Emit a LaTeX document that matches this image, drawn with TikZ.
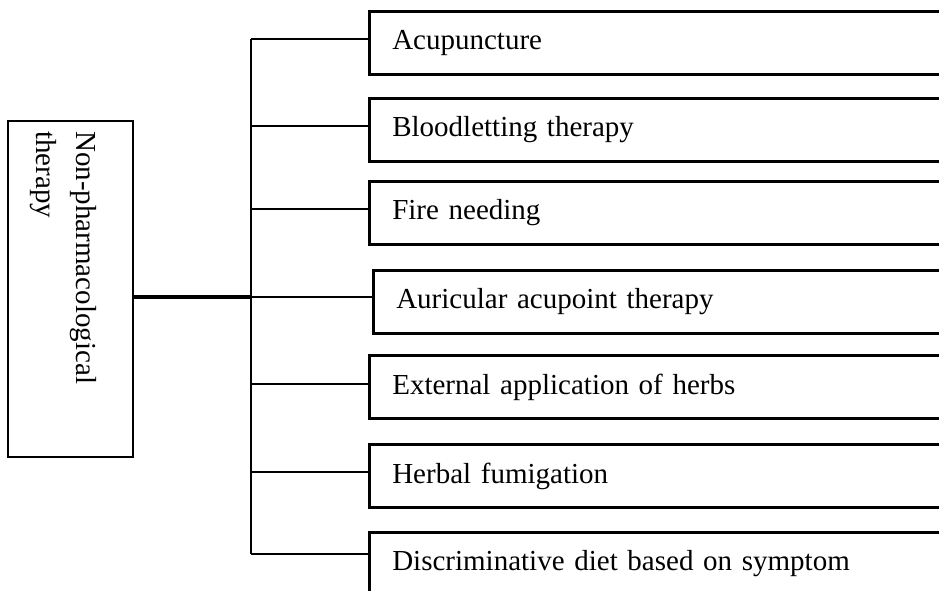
\documentclass[tikz,border=0pt]{standalone}
\usepackage{fontspec}
\setmainfont{Liberation Serif}
\begin{document}
\begin{tikzpicture}[x=1pt,y=-1pt,
  every node/.style={font=\fontsize{29}{40}\selectfont},
  box/.style={draw,line width=2.6pt,inner sep=0},
  item/.style={box,anchor=west,minimum height=63pt,text width=560pt,align=left,inner xsep=23pt},
  branch/.style={line width=2.6pt}]
\path[use as bounding box,clip] (0,0) rectangle (939,591);
\node[box,minimum width=125pt,minimum height=336pt] (root) at (70.5,289) {};
\node[rotate=-90,anchor=north west,align=left,inner sep=0] (rootlabel) at (97,131) {Non-pharmacological\\therapy};
\coordinate (hub) at (251,297);
\foreach \i/\x/\y/\d/\txt in {1/368/43/4/Acupuncture, 2/368/130/4/Bloodletting therapy,
  3/368/213/4/Fire needing, 4/372/302/5/Auricular acupoint therapy,
  5/368/387/3/External application of herbs, 6/368/476/4/Herbal fumigation,
  7/368/564/10/Discriminative diet based on symptom}{%
  \node[item] (b\i) at (\x,\y) {\txt};
  \draw[branch] ([yshift=\d pt]b\i.west) -- ([yshift=\d pt]b\i.west -| hub);}
\draw[branch] ([yshift=4pt]b1.west -| hub) -- ([yshift=10pt]b7.west -| hub);
\draw[line width=4pt] (root.east |- hub) -- (hub);
\end{tikzpicture}
\end{document}
